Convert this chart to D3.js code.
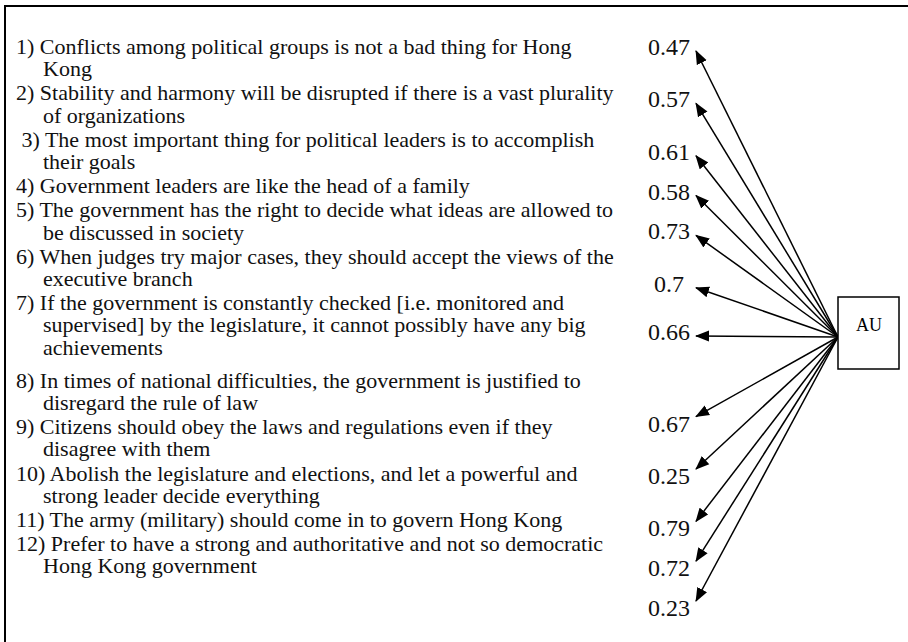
<!DOCTYPE html>
<html>
<head>
<meta charset="utf-8">
<script src="https://cdn.jsdelivr.net/npm/d3@7"></script>
<style>
  body { margin: 0; background: #fff; }
  svg { display: block; }
</style>
</head>
<body>
<script>
// questionnaire items, wrapped as in the figure
var items = [
  ["1) Conflicts among political groups is not a bad thing for Hong", "Kong"],
  ["2) Stability and harmony will be disrupted if there is a vast plurality", "of organizations"],
  [" 3) The most important thing for political leaders is to accomplish", "their goals"],
  ["4) Government leaders are like the head of a family"],
  ["5) The government has the right to decide what ideas are allowed to", "be discussed in society"],
  ["6) When judges try major cases, they should accept the views of the", "executive branch"],
  ["7) If the government is constantly checked [i.e. monitored and", "supervised] by the legislature, it cannot possibly have any big", "achievements"],
  ["8) In times of national difficulties, the government is justified to", "disregard the rule of law"],
  ["9) Citizens should obey the laws and regulations even if they", "disagree with them"],
  ["10) Abolish the legislature and elections, and let a powerful and", "strong leader decide everything"],
  ["11) The army (military) should come in to govern Hong Kong"],
  ["12) Prefer to have a strong and authoritative and not so democratic", "Hong Kong government"]
];
var loadings = [0.47, 0.57, 0.61, 0.58, 0.73, 0.7, 0.66, 0.67, 0.25, 0.79, 0.72, 0.23];
var factor = "AU";

var width = 908, height = 642;
var lineH = 22.2, itemGap = 2;
var serif = "'Liberation Serif', 'Times New Roman', serif";

var svg = d3.select("body").append("svg")
    .attr("width", width)
    .attr("height", height);

// frame (top and left only)
svg.append("path")
    .attr("d", "M5 " + height + " V6 H" + width)
    .attr("fill", "none")
    .attr("stroke", "#000")
    .attr("stroke-width", 2);

// stack the item blocks
var cursor = 47;
var blocks = items.map(function(lines, i) {
    var b = { lines: lines, top: cursor };
    b.mid = cursor + (lines.length - 1) * lineH / 2;
    cursor += lines.length * lineH + itemGap + (i == 6 ? 9 : 0);
    return b;
});

var itemText = svg.append("g")
    .attr("font-family", serif)
    .attr("font-size", 22)
    .attr("fill", "#111");

blocks.forEach(function(b) {
    b.lines.forEach(function(t, j) {
        itemText.append("text")
            .attr("x", j == 0 ? 16 : 43)
            .attr("y", b.top + j * lineH + 7)
            .attr("xml:space", "preserve")
            .style("white-space", "pre")
            .text(t);
    });
});

var source = { x: 838, y: 337 };

// label column follows the block middles, spread a bit wider
var labelY = d3.scaleLinear()
    .domain([blocks[0].mid, blocks[blocks.length - 1].mid])
    .range([47, 608]);

var paths = blocks.map(function(b, i) {
    var y = labelY(b.mid);
    // the one closest to the factor gets a flat arrow
    if (Math.abs(y - source.y) < 20) y = source.y - 5;
    return { value: loadings[i], y: y };
});

var defs = svg.append("defs");
defs.append("marker")
    .attr("id", "head")
    .attr("markerUnits", "userSpaceOnUse")
    .attr("viewBox", "0 -6 14 12")
    .attr("refX", 13)
    .attr("refY", 0)
    .attr("markerWidth", 14)
    .attr("markerHeight", 12)
    .attr("orient", "auto")
  .append("path")
    .attr("d", "M0,-5.5 L14,0 L0,5.5 Z")
    .attr("fill", "#000");

svg.append("g").selectAll("line")
    .data(paths)
    .enter()
    .append("line")
        .attr("x1", source.x)
        .attr("y1", source.y)
        .attr("x2", 696)
        .attr("y2", function(d) { return d.y + (d.y < source.y ? 4 : -7); })
        .attr("stroke", "#000")
        .attr("stroke-width", 1.5)
        .attr("marker-end", "url(#head)");

svg.append("g").selectAll("text")
    .data(paths)
    .enter()
    .append("text")
        .attr("x", 669)
        .attr("y", function(d) { return d.y + 8; })
        .attr("text-anchor", "middle")
        .attr("font-family", serif)
        .attr("font-size", 24)
        .attr("fill", "#111")
        .text(function(d) { return String(d.value); });

// factor box
svg.append("rect")
    .attr("x", 838)
    .attr("y", 297)
    .attr("width", 61)
    .attr("height", 72)
    .attr("fill", "#fff")
    .attr("stroke", "#000")
    .attr("stroke-width", 1.5);

svg.append("text")
    .attr("x", 869)
    .attr("y", 331)
    .attr("text-anchor", "middle")
    .attr("font-family", serif)
    .attr("font-size", 18)
    .text(factor);
</script>
</body>
</html>
